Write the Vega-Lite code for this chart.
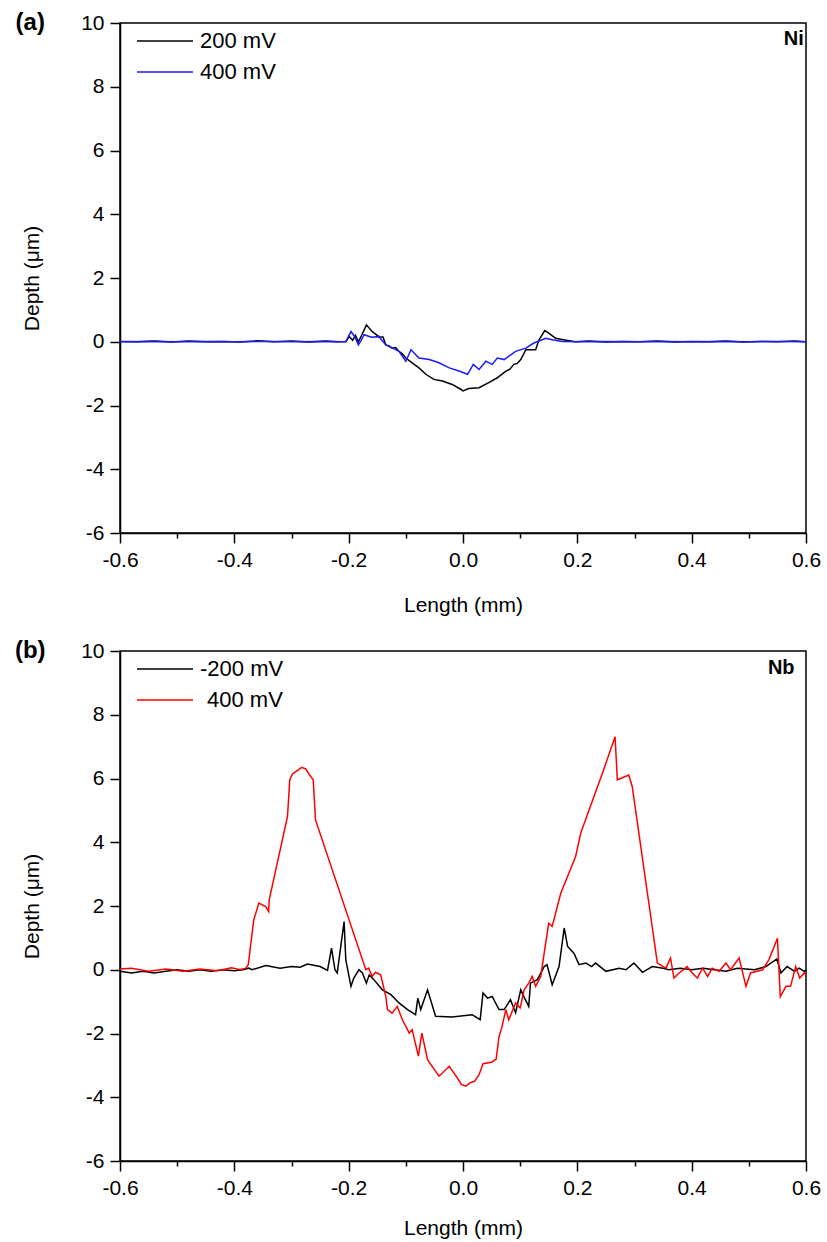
{
  "$schema": "https://vega.github.io/schema/vega-lite/v6.json",
  "background": "white",
  "padding": {"left": 14, "top": 10, "right": 5, "bottom": 5},
  "spacing": 22,
  "config": {
    "font": "Liberation Sans",
    "view": {"stroke": "black", "strokeWidth": 1.5},
    "axis": {
      "grid": false,
      "domainColor": "black",
      "domainWidth": 1.5,
      "tickColor": "black",
      "tickWidth": 1.5,
      "labelColor": "black",
      "titleColor": "black",
      "labelFont": "Liberation Sans",
      "titleFont": "Liberation Sans",
      "labelFontSize": 21,
      "titleFontSize": 21,
      "titleFontWeight": "normal",
      "labelFlush": false,
      "labelOverlap": false
    },
    "legend": {
      "orient": "none",
      "legendX": 16,
      "legendY": 8,
      "title": null,
      "symbolType": "stroke",
      "symbolSize": 3136,
      "symbolStrokeWidth": 1.5,
      "labelFont": "Liberation Sans",
      "labelFontSize": 22,
      "labelColor": "black",
      "labelOffset": 6,
      "clipHeight": 20,
      "rowPadding": 9
    }
  },
  "datasets": {
    "a": [
      {"x": -0.6, "y": 0.01, "s": "200 mV"}, {"x": -0.57, "y": 0.0, "s": "200 mV"}, {"x": -0.54, "y": 0.02, "s": "200 mV"}, {"x": -0.51, "y": -0.01, "s": "200 mV"}, {"x": -0.48, "y": 0.02, "s": "200 mV"}, {"x": -0.45, "y": 0.0, "s": "200 mV"}, {"x": -0.42, "y": 0.01, "s": "200 mV"}, {"x": -0.39, "y": -0.01, "s": "200 mV"}, {"x": -0.36, "y": 0.03, "s": "200 mV"}, {"x": -0.33, "y": 0.0, "s": "200 mV"}, {"x": -0.3, "y": 0.02, "s": "200 mV"}, {"x": -0.27, "y": -0.01, "s": "200 mV"}, {"x": -0.24, "y": 0.02, "s": "200 mV"}, {"x": -0.22, "y": 0.0, "s": "200 mV"}, {"x": -0.205, "y": 0.01, "s": "200 mV"},
      {"x": -0.199, "y": 0.16, "s": "200 mV"}, {"x": -0.193, "y": 0.05, "s": "200 mV"}, {"x": -0.188, "y": 0.2, "s": "200 mV"}, {"x": -0.183, "y": 0.0, "s": "200 mV"}, {"x": -0.176, "y": 0.25, "s": "200 mV"}, {"x": -0.169, "y": 0.53, "s": "200 mV"}, {"x": -0.159, "y": 0.32, "s": "200 mV"}, {"x": -0.147, "y": 0.16, "s": "200 mV"}, {"x": -0.14, "y": 0.15, "s": "200 mV"}, {"x": -0.135, "y": -0.1, "s": "200 mV"}, {"x": -0.13, "y": -0.12, "s": "200 mV"}, {"x": -0.124, "y": -0.2, "s": "200 mV"}, {"x": -0.118, "y": -0.18, "s": "200 mV"}, {"x": -0.112, "y": -0.3, "s": "200 mV"}, {"x": -0.106, "y": -0.38, "s": "200 mV"}, {"x": -0.1, "y": -0.51, "s": "200 mV"}, {"x": -0.089, "y": -0.66, "s": "200 mV"}, {"x": -0.077, "y": -0.82, "s": "200 mV"}, {"x": -0.065, "y": -1.02, "s": "200 mV"}, {"x": -0.051, "y": -1.18, "s": "200 mV"}, {"x": -0.036, "y": -1.23, "s": "200 mV"}, {"x": -0.019, "y": -1.34, "s": "200 mV"}, {"x": -0.004, "y": -1.49, "s": "200 mV"}, {"x": 0.0, "y": -1.54, "s": "200 mV"}, {"x": 0.01, "y": -1.47, "s": "200 mV"}, {"x": 0.028, "y": -1.44, "s": "200 mV"}, {"x": 0.045, "y": -1.28, "s": "200 mV"}, {"x": 0.06, "y": -1.13, "s": "200 mV"}, {"x": 0.075, "y": -0.92, "s": "200 mV"}, {"x": 0.082, "y": -0.86, "s": "200 mV"}, {"x": 0.089, "y": -0.71, "s": "200 mV"}, {"x": 0.095, "y": -0.68, "s": "200 mV"}, {"x": 0.101, "y": -0.56, "s": "200 mV"}, {"x": 0.11, "y": -0.25, "s": "200 mV"}, {"x": 0.127, "y": -0.25, "s": "200 mV"}, {"x": 0.133, "y": 0.06, "s": "200 mV"}, {"x": 0.143, "y": 0.35, "s": "200 mV"}, {"x": 0.15, "y": 0.27, "s": "200 mV"}, {"x": 0.162, "y": 0.11, "s": "200 mV"}, {"x": 0.18, "y": 0.05, "s": "200 mV"}, {"x": 0.197, "y": 0.0, "s": "200 mV"},
      {"x": 0.22, "y": 0.02, "s": "200 mV"}, {"x": 0.25, "y": -0.01, "s": "200 mV"}, {"x": 0.28, "y": 0.01, "s": "200 mV"}, {"x": 0.31, "y": 0.0, "s": "200 mV"}, {"x": 0.34, "y": 0.02, "s": "200 mV"}, {"x": 0.37, "y": -0.01, "s": "200 mV"}, {"x": 0.4, "y": 0.01, "s": "200 mV"}, {"x": 0.43, "y": 0.0, "s": "200 mV"}, {"x": 0.46, "y": 0.02, "s": "200 mV"}, {"x": 0.49, "y": -0.01, "s": "200 mV"}, {"x": 0.52, "y": 0.01, "s": "200 mV"}, {"x": 0.55, "y": 0.0, "s": "200 mV"}, {"x": 0.58, "y": 0.02, "s": "200 mV"}, {"x": 0.6, "y": 0.0, "s": "200 mV"},
      {"x": -0.6, "y": 0.0, "s": "400 mV"}, {"x": -0.55, "y": 0.01, "s": "400 mV"}, {"x": -0.5, "y": 0.0, "s": "400 mV"}, {"x": -0.45, "y": 0.01, "s": "400 mV"}, {"x": -0.4, "y": 0.0, "s": "400 mV"}, {"x": -0.35, "y": 0.01, "s": "400 mV"}, {"x": -0.3, "y": 0.0, "s": "400 mV"}, {"x": -0.25, "y": 0.01, "s": "400 mV"}, {"x": -0.205, "y": 0.0, "s": "400 mV"},
      {"x": -0.196, "y": 0.32, "s": "400 mV"}, {"x": -0.189, "y": 0.15, "s": "400 mV"}, {"x": -0.183, "y": -0.1, "s": "400 mV"}, {"x": -0.178, "y": 0.05, "s": "400 mV"}, {"x": -0.173, "y": 0.22, "s": "400 mV"}, {"x": -0.16, "y": 0.14, "s": "400 mV"}, {"x": -0.147, "y": 0.16, "s": "400 mV"}, {"x": -0.135, "y": -0.1, "s": "400 mV"}, {"x": -0.123, "y": -0.2, "s": "400 mV"}, {"x": -0.112, "y": -0.3, "s": "400 mV"}, {"x": -0.1, "y": -0.61, "s": "400 mV"}, {"x": -0.091, "y": -0.25, "s": "400 mV"}, {"x": -0.077, "y": -0.51, "s": "400 mV"}, {"x": -0.059, "y": -0.56, "s": "400 mV"}, {"x": -0.042, "y": -0.66, "s": "400 mV"}, {"x": -0.024, "y": -0.82, "s": "400 mV"}, {"x": -0.007, "y": -0.92, "s": "400 mV"}, {"x": 0.008, "y": -1.02, "s": "400 mV"}, {"x": 0.018, "y": -0.71, "s": "400 mV"}, {"x": 0.028, "y": -0.87, "s": "400 mV"}, {"x": 0.04, "y": -0.61, "s": "400 mV"}, {"x": 0.051, "y": -0.71, "s": "400 mV"}, {"x": 0.06, "y": -0.51, "s": "400 mV"}, {"x": 0.072, "y": -0.56, "s": "400 mV"}, {"x": 0.092, "y": -0.3, "s": "400 mV"}, {"x": 0.11, "y": -0.2, "s": "400 mV"}, {"x": 0.124, "y": -0.04, "s": "400 mV"}, {"x": 0.145, "y": 0.11, "s": "400 mV"}, {"x": 0.156, "y": 0.06, "s": "400 mV"}, {"x": 0.174, "y": 0.01, "s": "400 mV"},
      {"x": 0.2, "y": 0.0, "s": "400 mV"}, {"x": 0.25, "y": 0.01, "s": "400 mV"}, {"x": 0.3, "y": 0.0, "s": "400 mV"}, {"x": 0.35, "y": 0.01, "s": "400 mV"}, {"x": 0.4, "y": 0.0, "s": "400 mV"}, {"x": 0.45, "y": 0.01, "s": "400 mV"}, {"x": 0.5, "y": 0.0, "s": "400 mV"}, {"x": 0.55, "y": 0.01, "s": "400 mV"}, {"x": 0.6, "y": 0.0, "s": "400 mV"}
    ],
    "b": [
      {"x": -0.6, "y": -0.05, "s": "-200 mV"}, {"x": -0.58, "y": -0.1, "s": "-200 mV"}, {"x": -0.56, "y": -0.05, "s": "-200 mV"}, {"x": -0.54, "y": -0.1, "s": "-200 mV"}, {"x": -0.52, "y": -0.05, "s": "-200 mV"}, {"x": -0.5, "y": 0.0, "s": "-200 mV"}, {"x": -0.48, "y": -0.05, "s": "-200 mV"}, {"x": -0.46, "y": 0.0, "s": "-200 mV"}, {"x": -0.44, "y": -0.05, "s": "-200 mV"}, {"x": -0.42, "y": 0.0, "s": "-200 mV"}, {"x": -0.4, "y": -0.03, "s": "-200 mV"}, {"x": -0.385, "y": 0.0, "s": "-200 mV"}, {"x": -0.375, "y": 0.05, "s": "-200 mV"}, {"x": -0.369, "y": 0.0, "s": "-200 mV"}, {"x": -0.345, "y": 0.13, "s": "-200 mV"}, {"x": -0.32, "y": 0.05, "s": "-200 mV"}, {"x": -0.3, "y": 0.1, "s": "-200 mV"}, {"x": -0.285, "y": 0.08, "s": "-200 mV"}, {"x": -0.272, "y": 0.18, "s": "-200 mV"}, {"x": -0.25, "y": 0.1, "s": "-200 mV"}, {"x": -0.237, "y": -0.02, "s": "-200 mV"}, {"x": -0.23, "y": 0.68, "s": "-200 mV"}, {"x": -0.224, "y": 0.0, "s": "-200 mV"}, {"x": -0.22, "y": -0.1, "s": "-200 mV"}, {"x": -0.208, "y": 1.51, "s": "-200 mV"}, {"x": -0.205, "y": 0.31, "s": "-200 mV"}, {"x": -0.196, "y": -0.52, "s": "-200 mV"}, {"x": -0.191, "y": -0.26, "s": "-200 mV"}, {"x": -0.182, "y": 0.0, "s": "-200 mV"}, {"x": -0.176, "y": -0.1, "s": "-200 mV"}, {"x": -0.169, "y": -0.42, "s": "-200 mV"}, {"x": -0.164, "y": -0.16, "s": "-200 mV"}, {"x": -0.156, "y": -0.31, "s": "-200 mV"}, {"x": -0.141, "y": -0.63, "s": "-200 mV"}, {"x": -0.126, "y": -0.78, "s": "-200 mV"}, {"x": -0.112, "y": -1.04, "s": "-200 mV"}, {"x": -0.097, "y": -1.25, "s": "-200 mV"}, {"x": -0.083, "y": -1.41, "s": "-200 mV"}, {"x": -0.079, "y": -0.89, "s": "-200 mV"}, {"x": -0.074, "y": -1.25, "s": "-200 mV"}, {"x": -0.062, "y": -0.63, "s": "-200 mV"}, {"x": -0.048, "y": -1.46, "s": "-200 mV"}, {"x": -0.019, "y": -1.48, "s": "-200 mV"}, {"x": 0.016, "y": -1.41, "s": "-200 mV"}, {"x": 0.025, "y": -1.51, "s": "-200 mV"}, {"x": 0.03, "y": -1.57, "s": "-200 mV"}, {"x": 0.035, "y": -0.73, "s": "-200 mV"}, {"x": 0.043, "y": -0.89, "s": "-200 mV"}, {"x": 0.051, "y": -0.84, "s": "-200 mV"}, {"x": 0.063, "y": -1.25, "s": "-200 mV"}, {"x": 0.072, "y": -1.25, "s": "-200 mV"}, {"x": 0.083, "y": -0.94, "s": "-200 mV"}, {"x": 0.092, "y": -1.35, "s": "-200 mV"}, {"x": 0.101, "y": -0.63, "s": "-200 mV"}, {"x": 0.108, "y": -0.9, "s": "-200 mV"}, {"x": 0.115, "y": -1.15, "s": "-200 mV"}, {"x": 0.118, "y": -0.42, "s": "-200 mV"}, {"x": 0.13, "y": -0.31, "s": "-200 mV"}, {"x": 0.142, "y": 0.1, "s": "-200 mV"}, {"x": 0.147, "y": 0.16, "s": "-200 mV"}, {"x": 0.156, "y": -0.47, "s": "-200 mV"}, {"x": 0.168, "y": 0.1, "s": "-200 mV"}, {"x": 0.177, "y": 1.31, "s": "-200 mV"}, {"x": 0.183, "y": 0.73, "s": "-200 mV"}, {"x": 0.194, "y": 0.52, "s": "-200 mV"}, {"x": 0.203, "y": 0.16, "s": "-200 mV"}, {"x": 0.215, "y": 0.21, "s": "-200 mV"}, {"x": 0.225, "y": 0.1, "s": "-200 mV"}, {"x": 0.232, "y": 0.21, "s": "-200 mV"}, {"x": 0.25, "y": -0.05, "s": "-200 mV"}, {"x": 0.273, "y": 0.05, "s": "-200 mV"}, {"x": 0.285, "y": 0.0, "s": "-200 mV"}, {"x": 0.299, "y": 0.21, "s": "-200 mV"}, {"x": 0.314, "y": -0.08, "s": "-200 mV"}, {"x": 0.331, "y": 0.1, "s": "-200 mV"}, {"x": 0.35, "y": 0.05, "s": "-200 mV"}, {"x": 0.36, "y": 0.0, "s": "-200 mV"}, {"x": 0.38, "y": 0.05, "s": "-200 mV"}, {"x": 0.4, "y": 0.0, "s": "-200 mV"}, {"x": 0.42, "y": 0.05, "s": "-200 mV"}, {"x": 0.44, "y": 0.0, "s": "-200 mV"}, {"x": 0.46, "y": -0.05, "s": "-200 mV"}, {"x": 0.48, "y": 0.05, "s": "-200 mV"}, {"x": 0.51, "y": 0.0, "s": "-200 mV"}, {"x": 0.53, "y": 0.1, "s": "-200 mV"}, {"x": 0.549, "y": 0.34, "s": "-200 mV"}, {"x": 0.556, "y": -0.1, "s": "-200 mV"}, {"x": 0.567, "y": 0.1, "s": "-200 mV"}, {"x": 0.58, "y": -0.05, "s": "-200 mV"}, {"x": 0.588, "y": 0.05, "s": "-200 mV"}, {"x": 0.597, "y": -0.05, "s": "-200 mV"}, {"x": 0.6, "y": 0.0, "s": "-200 mV"},
      {"x": -0.6, "y": 0.02, "s": "400 mV"}, {"x": -0.58, "y": 0.05, "s": "400 mV"}, {"x": -0.55, "y": -0.05, "s": "400 mV"}, {"x": -0.52, "y": 0.02, "s": "400 mV"}, {"x": -0.49, "y": -0.05, "s": "400 mV"}, {"x": -0.46, "y": 0.02, "s": "400 mV"}, {"x": -0.43, "y": -0.03, "s": "400 mV"}, {"x": -0.405, "y": 0.06, "s": "400 mV"}, {"x": -0.39, "y": 0.0, "s": "400 mV"}, {"x": -0.38, "y": 0.05, "s": "400 mV"},
      {"x": -0.3756, "y": 0.16, "s": "400 mV"}, {"x": -0.371, "y": 0.84, "s": "400 mV"}, {"x": -0.366, "y": 1.57, "s": "400 mV"}, {"x": -0.357, "y": 2.09, "s": "400 mV"}, {"x": -0.345, "y": 1.98, "s": "400 mV"}, {"x": -0.34, "y": 1.83, "s": "400 mV"}, {"x": -0.339, "y": 2.19, "s": "400 mV"}, {"x": -0.307, "y": 4.81, "s": "400 mV"}, {"x": -0.303, "y": 5.96, "s": "400 mV"}, {"x": -0.298, "y": 6.15, "s": "400 mV"}, {"x": -0.29, "y": 6.25, "s": "400 mV"}, {"x": -0.282, "y": 6.35, "s": "400 mV"}, {"x": -0.275, "y": 6.3, "s": "400 mV"}, {"x": -0.268, "y": 6.1, "s": "400 mV"}, {"x": -0.262, "y": 5.96, "s": "400 mV"}, {"x": -0.258, "y": 4.7, "s": "400 mV"}, {"x": -0.17, "y": 0.0, "s": "400 mV"}, {"x": -0.165, "y": 0.05, "s": "400 mV"}, {"x": -0.159, "y": -0.21, "s": "400 mV"}, {"x": -0.153, "y": -0.08, "s": "400 mV"}, {"x": -0.144, "y": -0.16, "s": "400 mV"}, {"x": -0.135, "y": -0.84, "s": "400 mV"}, {"x": -0.132, "y": -1.25, "s": "400 mV"}, {"x": -0.124, "y": -1.36, "s": "400 mV"}, {"x": -0.115, "y": -1.15, "s": "400 mV"}, {"x": -0.106, "y": -1.57, "s": "400 mV"}, {"x": -0.094, "y": -1.99, "s": "400 mV"}, {"x": -0.089, "y": -1.88, "s": "400 mV"}, {"x": -0.078, "y": -2.71, "s": "400 mV"}, {"x": -0.072, "y": -1.99, "s": "400 mV"}, {"x": -0.062, "y": -2.82, "s": "400 mV"}, {"x": -0.054, "y": -3.03, "s": "400 mV"}, {"x": -0.042, "y": -3.34, "s": "400 mV"}, {"x": -0.024, "y": -3.03, "s": "400 mV"}, {"x": -0.01, "y": -3.39, "s": "400 mV"}, {"x": -0.003, "y": -3.6, "s": "400 mV"}, {"x": 0.005, "y": -3.65, "s": "400 mV"}, {"x": 0.012, "y": -3.55, "s": "400 mV"}, {"x": 0.02, "y": -3.5, "s": "400 mV"}, {"x": 0.028, "y": -3.3, "s": "400 mV"}, {"x": 0.035, "y": -2.95, "s": "400 mV"}, {"x": 0.05, "y": -2.9, "s": "400 mV"}, {"x": 0.058, "y": -2.8, "s": "400 mV"}, {"x": 0.063, "y": -2.1, "s": "400 mV"}, {"x": 0.068, "y": -1.8, "s": "400 mV"}, {"x": 0.075, "y": -1.25, "s": "400 mV"}, {"x": 0.08, "y": -1.57, "s": "400 mV"}, {"x": 0.092, "y": -1.04, "s": "400 mV"}, {"x": 0.1, "y": -1.2, "s": "400 mV"}, {"x": 0.107, "y": -0.63, "s": "400 mV"}, {"x": 0.115, "y": -0.42, "s": "400 mV"}, {"x": 0.121, "y": -0.21, "s": "400 mV"}, {"x": 0.127, "y": -0.52, "s": "400 mV"}, {"x": 0.136, "y": -0.21, "s": "400 mV"}, {"x": 0.142, "y": 0.52, "s": "400 mV"}, {"x": 0.15, "y": 1.46, "s": "400 mV"}, {"x": 0.156, "y": 1.36, "s": "400 mV"}, {"x": 0.171, "y": 2.4, "s": "400 mV"}, {"x": 0.197, "y": 3.55, "s": "400 mV"}, {"x": 0.206, "y": 4.29, "s": "400 mV"}, {"x": 0.244, "y": 6.17, "s": "400 mV"}, {"x": 0.266, "y": 7.31, "s": "400 mV"}, {"x": 0.27, "y": 5.96, "s": "400 mV"}, {"x": 0.29, "y": 6.11, "s": "400 mV"}, {"x": 0.296, "y": 5.75, "s": "400 mV"}, {"x": 0.34, "y": 0.21, "s": "400 mV"}, {"x": 0.355, "y": 0.05, "s": "400 mV"}, {"x": 0.363, "y": 0.37, "s": "400 mV"}, {"x": 0.369, "y": -0.26, "s": "400 mV"}, {"x": 0.378, "y": -0.1, "s": "400 mV"}, {"x": 0.392, "y": 0.1, "s": "400 mV"}, {"x": 0.401, "y": -0.1, "s": "400 mV"}, {"x": 0.41, "y": -0.26, "s": "400 mV"}, {"x": 0.419, "y": 0.05, "s": "400 mV"}, {"x": 0.428, "y": -0.21, "s": "400 mV"}, {"x": 0.436, "y": 0.05, "s": "400 mV"}, {"x": 0.448, "y": -0.05, "s": "400 mV"}, {"x": 0.46, "y": 0.21, "s": "400 mV"}, {"x": 0.468, "y": 0.0, "s": "400 mV"}, {"x": 0.483, "y": 0.37, "s": "400 mV"}, {"x": 0.495, "y": -0.52, "s": "400 mV"}, {"x": 0.503, "y": -0.1, "s": "400 mV"}, {"x": 0.524, "y": 0.0, "s": "400 mV"}, {"x": 0.535, "y": 0.31, "s": "400 mV"}, {"x": 0.55, "y": 0.99, "s": "400 mV"}, {"x": 0.555, "y": -0.84, "s": "400 mV"}, {"x": 0.565, "y": -0.52, "s": "400 mV"}, {"x": 0.573, "y": -0.52, "s": "400 mV"}, {"x": 0.582, "y": 0.1, "s": "400 mV"}, {"x": 0.589, "y": -0.26, "s": "400 mV"}, {"x": 0.597, "y": -0.1, "s": "400 mV"}, {"x": 0.6, "y": -0.15, "s": "400 mV"}
    ]
  },
  "vconcat": [
    {
      "width": 686,
      "height": 510,
      "layer": [
        {
          "data": {"name": "a"},
          "mark": {"type": "line", "strokeWidth": 1.5},
          "encoding": {
            "x": {"field": "x", "type": "quantitative",
              "scale": {"domain": [-0.6, 0.6], "nice": false, "zero": false},
              "axis": {"title": "Length (mm)", "values": [-0.6, -0.5, -0.4, -0.3, -0.2, -0.1, 0, 0.1, 0.2, 0.3, 0.4, 0.5, 0.6],
                "labelExpr": "abs(round(datum.value*10)) % 2 == 0 ? (datum.value < -0.001 ? '-' : '') + format(abs(datum.value), '.1f') : ''",
                "tickSize": {"condition": {"test": "abs(round(datum.value*10)) % 2 == 1", "value": 5}, "value": 10},
                "labelPadding": 6, "titlePadding": 24}},
            "y": {"field": "y", "type": "quantitative",
              "scale": {"domain": [-6, 10], "nice": false, "zero": false},
              "axis": {"title": "Depth (μm)", "values": [-6, -5, -4, -3, -2, -1, 0, 1, 2, 3, 4, 5, 6, 7, 8, 9, 10],
                "labelExpr": "abs(datum.value) % 2 == 0 ? (datum.value < 0 ? '-' : '') + abs(datum.value) : ''",
                "tickSize": {"condition": {"test": "abs(datum.value) % 2 == 1", "value": 5}, "value": 10},
                "labelPadding": 6, "titlePadding": 38}},
            "color": {"field": "s", "type": "nominal",
              "scale": {"domain": ["200 mV", "400 mV"], "range": ["black", "#1a1aff"]}}
          }
        },
        {
          "data": {"values": [{}]},
          "mark": {"type": "text", "font": "Liberation Sans", "fontWeight": "bold", "fontSize": 20, "align": "right", "baseline": "middle", "color": "black"},
          "encoding": {"x": {"datum": 0.596, "type": "quantitative"}, "y": {"datum": 9.5, "type": "quantitative"}, "text": {"value": "Ni"}}
        },
        {
          "data": {"values": [{}]},
          "mark": {"type": "text", "font": "Liberation Sans", "fontWeight": "bold", "fontSize": 24, "align": "center", "baseline": "middle", "color": "black", "clip": false},
          "encoding": {"x": {"datum": -0.757, "type": "quantitative"}, "y": {"datum": 10, "type": "quantitative"}, "text": {"value": "(a)"}}
        }
      ]
    },
    {
      "width": 686,
      "height": 510,
      "layer": [
        {
          "data": {"name": "b"},
          "mark": {"type": "line", "strokeWidth": 1.5},
          "encoding": {
            "x": {"field": "x", "type": "quantitative",
              "scale": {"domain": [-0.6, 0.6], "nice": false, "zero": false},
              "axis": {"title": "Length (mm)", "values": [-0.6, -0.5, -0.4, -0.3, -0.2, -0.1, 0, 0.1, 0.2, 0.3, 0.4, 0.5, 0.6],
                "labelExpr": "abs(round(datum.value*10)) % 2 == 0 ? (datum.value < -0.001 ? '-' : '') + format(abs(datum.value), '.1f') : ''",
                "tickSize": {"condition": {"test": "abs(round(datum.value*10)) % 2 == 1", "value": 5}, "value": 10},
                "labelPadding": 6, "titlePadding": 19}},
            "y": {"field": "y", "type": "quantitative",
              "scale": {"domain": [-6, 10], "nice": false, "zero": false},
              "axis": {"title": "Depth (μm)", "values": [-6, -5, -4, -3, -2, -1, 0, 1, 2, 3, 4, 5, 6, 7, 8, 9, 10],
                "labelExpr": "abs(datum.value) % 2 == 0 ? (datum.value < 0 ? '-' : '') + abs(datum.value) : ''",
                "tickSize": {"condition": {"test": "abs(datum.value) % 2 == 1", "value": 5}, "value": 10},
                "labelPadding": 6, "titlePadding": 38}},
            "color": {"field": "s", "type": "nominal",
              "scale": {"domain": ["-200 mV", "400 mV"], "range": ["black", "#ff0000"]},
              "legend": {"encode": {"labels": {"update": {"dx": {"signal": "datum.label == '400 mV' ? 7 : 0"}}}}}}
          }
        },
        {
          "data": {"values": [{}]},
          "mark": {"type": "text", "font": "Liberation Sans", "fontWeight": "bold", "fontSize": 20, "align": "right", "baseline": "middle", "color": "black"},
          "encoding": {"x": {"datum": 0.58, "type": "quantitative"}, "y": {"datum": 9.47, "type": "quantitative"}, "text": {"value": "Nb"}}
        },
        {
          "data": {"values": [{}]},
          "mark": {"type": "text", "font": "Liberation Sans", "fontWeight": "bold", "fontSize": 24, "align": "center", "baseline": "middle", "color": "black", "clip": false},
          "encoding": {"x": {"datum": -0.757, "type": "quantitative"}, "y": {"datum": 10, "type": "quantitative"}, "text": {"value": "(b)"}}
        }
      ]
    }
  ],
  "resolve": {"scale": {"color": "independent"}}
}
